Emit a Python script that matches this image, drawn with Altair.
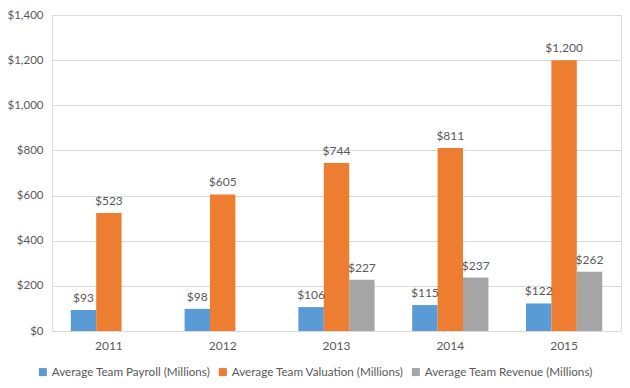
import altair as alt
import pandas as pd

years = ["2011", "2012", "2013", "2014", "2015"]
series = ["Average Team Payroll (Millions)", "Average Team Valuation (Millions)", "Average Team Revenue (Millions)"]
payroll = [93, 98, 106, 115, 122]
valuation = [523, 605, 744, 811, 1200]
revenue = [None, None, 227, 237, 262]
colors = ["#5B9BD5", "#ED7D31", "#A5A5A5"]

rows = []
for name, vals in zip(series, [payroll, valuation, revenue]):
    for y, v in zip(years, vals):
        if v is not None:
            rows.append({"Year": y, "Series": name, "Value": v})
df = pd.DataFrame(rows)

FONT = "Lato"
TXT = "#595959"

x = alt.X("Year:N", sort=years, title=None,
          scale=alt.Scale(paddingInner=0.33, paddingOuter=0.165),
          axis=alt.Axis(labelAngle=0, ticks=False, domain=False, labelPadding=9,
                        labelFont=FONT, labelFontSize=12, labelColor=TXT))
xo = alt.XOffset("Series:N", sort=series, scale=alt.Scale(domain=series, paddingInner=0, paddingOuter=0))
y = alt.Y("Value:Q", title=None,
          scale=alt.Scale(domain=[0, 1400], nice=False),
          axis=alt.Axis(values=list(range(0, 1401, 200)), format="$,.0f", ticks=False, domain=False,
                        labelPadding=9, labelFont=FONT, labelFontSize=11.5, labelColor=TXT,
                        gridColor="#D9D9D9", gridWidth=1))
color = alt.Color("Series:N", sort=series,
                  scale=alt.Scale(domain=series, range=colors),
                  legend=alt.Legend(title=None, orient="none", direction="horizontal", columns=3,
                                    legendX=-15, legendY=351, symbolType="square", symbolSize=64,
                                    symbolStrokeWidth=0, labelFont=FONT, labelFontSize=11.7,
                                    labelColor=TXT, columnPadding=6, symbolOffset=0, labelOffset=3,
                                    labelLimit=400))

bars = alt.Chart(df).mark_bar().encode(x=x, xOffset=xo, y=y, color=color)
labels = alt.Chart(df).mark_text(dy=-12, font=FONT, fontSize=12, color=TXT).encode(
    x=alt.X("Year:N", sort=years), xOffset=alt.XOffset("Series:N", sort=series),
    y="Value:Q", text=alt.Text("Value:Q", format="$,.0f"))

chart = (bars + labels).properties(
    width=569, height=316,
    autosize=alt.AutoSizeParams(type="none"),
    padding={"left": 44, "top": 7, "right": 1, "bottom": 49},
).configure_view(stroke=None).configure(background="white")

chart.save("out.html", embed_options={"renderer": "svg", "actions": False})
